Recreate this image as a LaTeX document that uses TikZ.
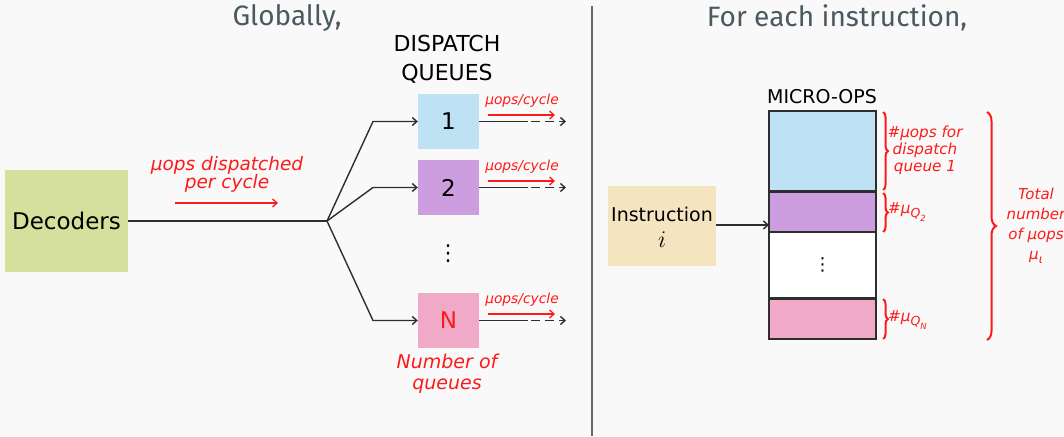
\RequirePackage{fix-cm}
\documentclass[tikz,border=0pt]{standalone}
\usepackage{fontspec}
\setmainfont{DejaVu Sans}
\newfontfamily\titlefont{Fira Sans}
\usetikzlibrary{arrows.meta,decorations.pathreplacing}
\definecolor{bgc}{HTML}{F9F9F9}
\definecolor{divc}{HTML}{5F6B6E}
\definecolor{titlec}{HTML}{4A5A60}
\definecolor{decc}{HTML}{D4E09B}
\definecolor{q1c}{HTML}{BEE1F4}
\definecolor{q2c}{HTML}{CC9DDF}
\definecolor{qnc}{HTML}{F0A9C6}
\definecolor{insc}{HTML}{F5E4C0}
\definecolor{redc}{HTML}{FF1A1A}
\definecolor{linec}{HTML}{2E2E2E}
\newcommand{\musub}[1]{µ\raisebox{-4pt}{\fontsize{12.5}{13}\selectfont Q}\raisebox{-7.5pt}{\fontsize{8.5}{9}\selectfont #1}}
\tikzset{
  box/.style={inner sep=0pt, anchor=center},
  conn/.style={draw=linec, line width=1.4pt},
  arr/.style={conn, -{Straight Barb[length=4.5pt,width=8pt]}},
  redarr/.style={draw=redc, line width=1.3pt, -{Straight Barb[length=4.5pt,width=8pt]}},
  redlbl/.style={text=redc, font=\itshape, align=center, inner sep=0pt},
  brc/.style={draw=redc, line width=2pt, decorate},
  stk/.style={draw=linec, line width=1.4pt},
}
\begin{document}
\begin{tikzpicture}[x=1pt,y=-1pt]
\fill[bgc] (0,0) rectangle (1064,436);
\useasboundingbox (0,0) rectangle (1064,436);
\coordinate (dt) at (592,6);
\coordinate (db) at (592,436);
\draw[divc, line width=1.3pt] (dt) -- (db);
\node[box, text=titlec, font=\titlefont\fontsize{28}{32}\selectfont] (t1) at (287,18) {Globally,};
\node[box, text=titlec, font=\titlefont\fontsize{28}{32}\selectfont] (t2) at (837,18) {For each instruction,};
% decoders
\node[box, fill=decc, minimum width=123pt, minimum height=102pt, font=\fontsize{23}{26}\selectfont] (dec) at (66.5,221) {Decoders};
\coordinate (j) at (327,221);
\draw[conn] (dec.east) -- (j);
% queues
\node[box, font=\fontsize{22}{29}\selectfont, align=center] (dqt) at (447,59) {DISPATCH\\QUEUES};
\node[box, fill=q1c, minimum width=61pt, minimum height=55pt, font=\fontsize{23}{26}\selectfont] (q1) at (448.5,121.5) {1};
\node[box, fill=q2c, minimum width=61pt, minimum height=55pt, font=\fontsize{23}{26}\selectfont] (q2) at (448.5,187.5) {2};
\node[box, fill=qnc, minimum width=61pt, minimum height=55pt, font=\fontsize{23}{26}\selectfont, text=redc] (qn) at (448.5,320.5) {N};
\node[box, font=\fontsize{22}{24}\selectfont] (vd) at (448,254) {⋮};
\coordinate (b1) at (373,121.5);
\coordinate (b2) at (373,187.5);
\coordinate (bn) at (373,320.5);
\draw[arr] (j) -- (b1) -- (q1.west);
\draw[arr] (j) -- (b2) -- (q2.west);
\draw[arr] (j) -- (bn) -- (qn.west);
% dispatch label
\node[redlbl, font=\itshape\fontsize{18.5}{18}\selectfont] (dl) at (227,174) {µops dispatched\\per cycle};
\coordinate (da1) at (175,203);
\coordinate (da2) at (278,203);
\draw[redarr] (da1) -- (da2);
% outputs
\foreach \q/\y in {q1/121.5,q2/187.5,qn/320.5}{
  \coordinate (\q s) at (528,\y);
  \coordinate (\q e) at (566,\y);
  \draw[conn] (\q.east) -- (\q s);
  \draw[arr, dash pattern=on 9pt off 5pt, dash phase=-3pt] (\q s) -- (\q e);
  \coordinate (\q ra) at (488,\y-6.5);
  \coordinate (\q rb) at (555,\y-6.5);
  \draw[redarr] (\q ra) -- (\q rb);
  \node[redlbl, font=\itshape\fontsize{13.8}{14}\selectfont] (\q l) at (522,\y-21) {µops/cycle};
}
\node[redlbl, font=\itshape\fontsize{19}{21}\selectfont] (nq) at (447,374) {Number of\\queues};
% right side
\node[box, fill=insc, minimum width=108pt, minimum height=80pt] (ins) at (662,226) {};
\node[box, font=\fontsize{19}{24}\selectfont] (inst) at (662,214) {Instruction};
\node[box, font=\fontsize{24}{26}\selectfont] (insi) at (662,240) {$i$};
\node[box, font=\fontsize{19}{20}\selectfont] (mo) at (822,97) {MICRO-OPS};
\node[stk, fill=q1c, minimum width=107pt, minimum height=80pt, inner sep=0pt] (s1) at (822.5,151) {};
\node[stk, fill=q2c, minimum width=107pt, minimum height=40pt, inner sep=0pt] (s2) at (822.5,212) {};
\node[stk, fill=white, minimum width=107pt, minimum height=66pt, inner sep=0pt, font=\fontsize{18}{20}\selectfont] (s3) at (822.5,265) {⋮};
\node[stk, fill=qnc, minimum width=107pt, minimum height=40pt, inner sep=0pt] (s4) at (822.5,319) {};
\coordinate (sa) at (769,225);
\draw[arr] (ins.east |- sa) -- (sa);
% braces
\coordinate (b1t) at (883,112);
\coordinate (b1b) at (883,190);
\draw[brc, decoration={brace, amplitude=5pt}] (b1t) -- (b1b);
\coordinate (b2t) at (883,193);
\coordinate (b2b) at (883,232);
\draw[brc, decoration={brace, amplitude=5pt}] (b2t) -- (b2b);
\coordinate (b4t) at (883,299);
\coordinate (b4b) at (883,339);
\draw[brc, decoration={brace, amplitude=5pt}] (b4t) -- (b4b);
\coordinate (bbt) at (987,112);
\coordinate (bbb) at (987,340);
\draw[brc, decoration={brace, amplitude=9pt}] (bbt) -- (bbb);
\node[redlbl, font=\itshape\fontsize{15.2}{17}\selectfont] (l1) at (925,150) {\#µops for\\dispatch\\queue 1};
\node[redlbl, font=\itshape\fontsize{15.2}{17}\selectfont, anchor=west] (l2) at (888,212) {\#\musub{2}};
\node[redlbl, font=\itshape\fontsize{15.2}{17}\selectfont, anchor=west] (l4) at (888,320) {\#\musub{N}};
\node[redlbl, font=\itshape\fontsize{15}{20}\selectfont] (lt) at (1036,226) {Total\\number\\of µops\\µ\raisebox{-4pt}{\fontsize{12}{12}\selectfont ι}};
\end{tikzpicture}
\end{document}
